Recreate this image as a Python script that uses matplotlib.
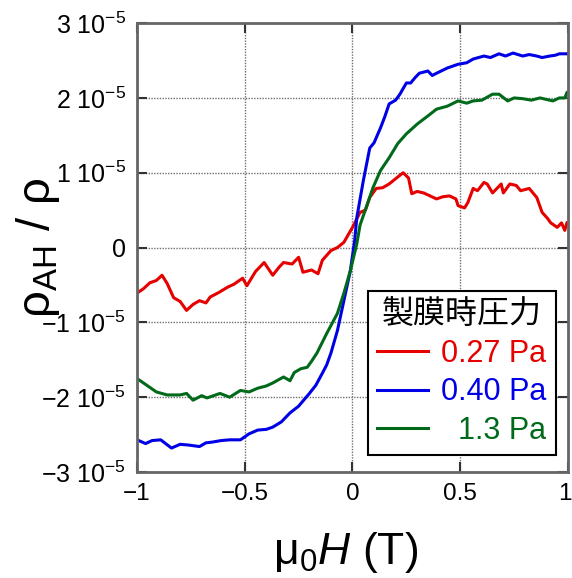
import numpy as np
import matplotlib
matplotlib.use("Agg")
import matplotlib.pyplot as plt
import matplotlib.transforms as mtrans

plt.rcParams['font.family'] = ['Liberation Sans', 'Noto Sans CJK JP', 'DejaVu Sans']
plt.rcParams['mathtext.fontset'] = 'custom'
plt.rcParams['mathtext.rm'] = 'Liberation Sans'
plt.rcParams['mathtext.it'] = 'Liberation Sans:italic'

# field (T) and rho_AH/rho in units of 1e-5
x_027 = [-1, -0.97, -0.94, -0.91, -0.884, -0.86, -0.83, -0.80, -0.77, -0.74, -0.71, -0.68,
         -0.66, -0.62, -0.58, -0.55, -0.51, -0.49, -0.45, -0.41, -0.37, -0.34, -0.32,
         -0.28, -0.25, -0.23, -0.19, -0.16, -0.14, -0.10, -0.07, -0.04, 0, 0.035, 0.06,
         0.08, 0.11, 0.14, 0.17, 0.2, 0.235, 0.26, 0.275, 0.30, 0.33, 0.36, 0.39, 0.42,
         0.45, 0.48, 0.49, 0.52, 0.535, 0.56, 0.58, 0.61, 0.625, 0.65, 0.67, 0.69, 0.70,
         0.73, 0.76, 0.78, 0.82, 0.855, 0.88, 0.905, 0.92, 0.95, 0.97, 0.985, 0.995]
y_027 = [-0.61, -0.55, -0.47, -0.44, -0.37, -0.48, -0.67, -0.72, -0.84, -0.76, -0.71, -0.74,
         -0.66, -0.60, -0.53, -0.49, -0.41, -0.51, -0.32, -0.2, -0.37, -0.26, -0.2,
         -0.22, -0.13, -0.33, -0.30, -0.35, -0.17, -0.04, 0.0, 0.07, 0.27, 0.47, 0.50,
         0.67, 0.79, 0.8, 0.85, 0.92, 1.0, 0.93, 0.72, 0.75, 0.73, 0.69, 0.65, 0.68,
         0.69, 0.65, 0.56, 0.53, 0.60, 0.79, 0.76, 0.87, 0.85, 0.73, 0.79, 0.85, 0.73,
         0.85, 0.83, 0.76, 0.79, 0.67, 0.47, 0.39, 0.33, 0.27, 0.33, 0.23, 0.33]

x_040 = [-1, -0.96, -0.93, -0.89, -0.84, -0.80, -0.76, -0.71, -0.68, -0.65, -0.61, -0.57,
         -0.52, -0.48, -0.44, -0.40, -0.37, -0.33, -0.29, -0.25, -0.2, -0.17, -0.14,
         -0.12, -0.1, -0.07, -0.04, -0.01, 0.01, 0.02, 0.05, 0.08, 0.10, 0.13, 0.15, 0.17,
         0.20, 0.22, 0.25, 0.27, 0.29, 0.31, 0.35, 0.37, 0.39, 0.44, 0.49, 0.53, 0.56,
         0.61, 0.64, 0.68, 0.71, 0.745, 0.79, 0.82, 0.855, 0.88, 0.915, 0.94, 0.96, 0.995]
y_040 = [-2.57, -2.62, -2.58, -2.57, -2.68, -2.63, -2.64, -2.66, -2.61, -2.6, -2.58, -2.57,
         -2.57, -2.49, -2.44, -2.43, -2.4, -2.33, -2.21, -2.12, -1.95, -1.84, -1.68,
         -1.57, -1.41, -1.11, -0.71, -0.31, 0.09, 0.4, 0.89, 1.33, 1.40, 1.6, 1.75, 1.92,
         1.97, 2.05, 2.20, 2.2, 2.27, 2.33, 2.36, 2.30, 2.33, 2.4, 2.45, 2.47, 2.52,
         2.56, 2.54, 2.59, 2.56, 2.6, 2.56, 2.58, 2.56, 2.54, 2.56, 2.57, 2.59, 2.59]

x_13 = [-1, -0.955, -0.91, -0.86, -0.8, -0.77, -0.74, -0.70, -0.675, -0.615, -0.57, -0.52,
        -0.48, -0.44, -0.40, -0.37, -0.32, -0.29, -0.27, -0.24, -0.21, -0.19, -0.165,
        -0.12, -0.07, -0.04, -0.01, 0.02, 0.035, 0.07, 0.095, 0.13, 0.17, 0.21, 0.25, 0.3,
        0.35, 0.39, 0.44, 0.49, 0.53, 0.56, 0.60, 0.65, 0.68, 0.72, 0.75, 0.79, 0.83,
        0.87, 0.90, 0.93, 0.96, 0.985, 0.995]
y_13 = [-1.75, -1.84, -1.93, -1.97, -1.97, -1.95, -2.04, -1.98, -2.01, -1.95, -2.0, -1.91,
        -1.93, -1.88, -1.85, -1.81, -1.73, -1.78, -1.67, -1.62, -1.6, -1.52, -1.41,
        -1.15, -0.88, -0.61, -0.31, 0.05, 0.3, 0.59, 0.8, 1.03, 1.2, 1.39, 1.52, 1.65,
        1.76, 1.85, 1.89, 1.96, 1.93, 1.96, 1.97, 2.05, 2.05, 1.96, 2.0, 1.99, 1.97,
        2.0, 1.98, 1.96, 2.0, 2.0, 2.07]

labels = ['0.27 Pa', '0.40 Pa', '  1.3 Pa']
colors = ['#e60000', '#0000e6', '#006a1a']

yticks = [-3, -2, -1, 0, 1, 2, 3]
ytick_labels = ['\u22123 10$^{\u22125}$', '\u22122 10$^{\u22125}$', '\u22121 10$^{\u22125}$', '0',
                '1 10$^{\u22125}$', '2 10$^{\u22125}$', '3 10$^{\u22125}$']
xticks = [-1, -0.5, 0, 0.5, 1]
xtick_labels = ['\u22121', '\u22120.5', '0', '0.5', '1']

fig = plt.figure(figsize=(5.72, 5.78), dpi=100)
ax = fig.add_axes([0.2395, 0.1834, 0.7535, 0.7766])

for xs, ys, lab, c in zip([x_027, x_040, x_13], [y_027, y_040, y_13], labels, colors):
    ax.plot(xs, np.array(ys) * 1e-5, color=c, lw=2.2, label=lab)

ax.set_xlim(-1, 1)
ax.set_ylim(-3e-5, 3e-5)
ax.set_xticks(xticks)
ax.set_xticklabels(xtick_labels, fontsize=17.5)
ax.set_yticks(np.array(yticks) * 1e-5)
ax.set_yticklabels(ytick_labels, fontsize=18)
ax.tick_params(direction='in', length=7, width=1.5, top=True, right=True, pad=8,
               color='#333333')
# keep the last x label inside the canvas
last = ax.get_xticklabels()[-1]
last.set_transform(last.get_transform() + mtrans.ScaledTranslation(-3 / 100, 0, fig.dpi_scale_trans))

ax.grid(True, color='#707070', linestyle=(0, (1, 1)), linewidth=1.0)
for s in ax.spines.values():
    s.set_color('#666666')
    s.set_linewidth(2)

ax.set_xlabel('\u03bc$_0$$\\it{H}$ (T)', fontsize=32)
ax.xaxis.set_label_coords(0.483, -0.13)
ax.set_ylabel('\u03c1$_{\\rm AH}$ / \u03c1', fontsize=34)
ax.yaxis.set_label_coords(-0.175, 0.5)

leg = ax.legend(title='製膜時圧力', loc='lower right', bbox_to_anchor=(0.972, 0.038),
                fontsize=22, title_fontsize=23, labelcolor='linecolor', handlelength=1.65,
                frameon=True, fancybox=False, edgecolor='black', framealpha=1,
                borderpad=0.3, labelspacing=0.28, handletextpad=0.45, borderaxespad=0)
leg.get_frame().set_linewidth(1.5)

fig.savefig('out.png', dpi=100)
